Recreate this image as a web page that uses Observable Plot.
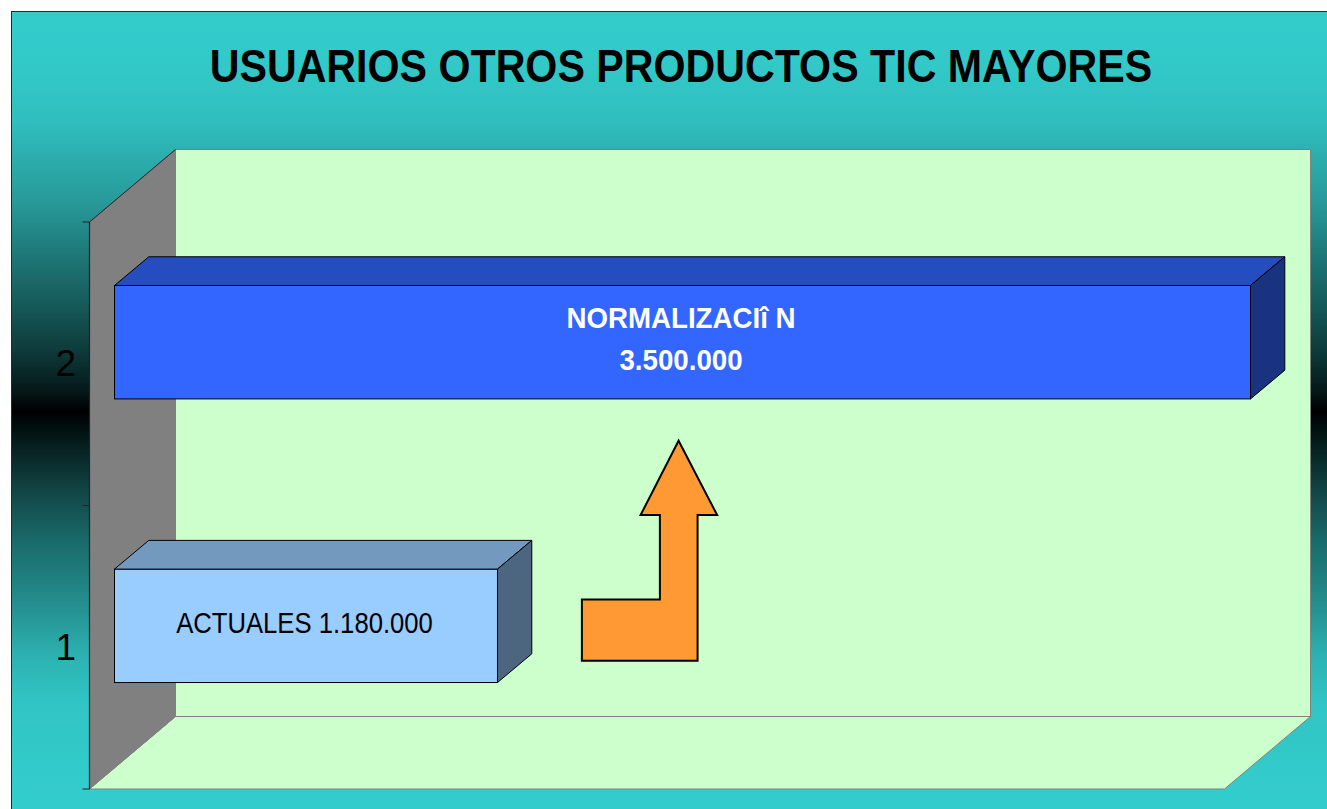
<!DOCTYPE html>
<html lang="es">
<head>
<meta charset="utf-8">
<script src="https://cdn.jsdelivr.net/npm/d3@7"></script>
<script src="https://cdn.jsdelivr.net/npm/@observablehq/plot@0.6"></script>
<style>
  html, body { margin: 0; padding: 0; background: #fff; overflow: hidden; }
  #page { position: relative; width: 1327px; height: 809px; overflow: hidden; }
  #panel {
    position: absolute; left: 11px; top: 11px; width: 1320px; height: 802px;
    box-sizing: border-box; border: 1.5px solid #2a2a2a;
    background: linear-gradient(to bottom,
      #33cccc 0px, #32c8c8 60px, #30bebe 110px, #2db0b0 139px, #289a9a 189px,
      #1f7a7a 239px, #175c5c 289px, #0e3a3a 339px, #051818 379px, #000000 399px,
      #021212 419px, #124545 479px, #1a6a6a 529px, #248c8c 589px, #2db2b2 645px,
      #31c4c4 689px, #33cccc 780px);
  }
  #title {
    position: absolute; left: 0; top: 38px; width: 1362px; margin: 0; text-align: center;
    font: bold 47px "Liberation Sans", Arial, sans-serif; color: #000; line-height: 56px;
    white-space: nowrap;
  }
  #title span { display: inline-block; transform: scaleX(0.876); transform-origin: center; }
  #chart { position: absolute; left: 0; top: 0; }
</style>
</head>
<body>
<div id="page">
  <div id="panel"></div>
  <div id="chart"></div>
  <h1 id="title"><span>USUARIOS OTROS PRODUCTOS TIC MAYORES</span></h1>
</div>
<script>
// Data
const categories = ["1", "2"];
const values = [1180000, 3500000];
const barLabels = ["ACTUALES 1.180.000", "NORMALIZACIî N\n3.500.000"];

// Colours per bar: front, top, side
const frontColors = ["#99ccff", "#3366ff"];
const topColors = ["#7399bf", "#264dbf"];
const sideColors = ["#4d6680", "#1a3380"];

const rows = categories.map((c, i) => ({category: c, value: values[i], label: barLabels[i], i}));

// Pseudo-3D layout
const room = {left: 89.5, right: 1224.5, top: 222, bottom: 789, dx: 86, dy: -72.5};
const barDepth = {dx: 34.3, dy: -28.7};
// Arrow outline relative to its lower-left corner
const arrowStart = 1440000;
const arrowShape = [[0, 0], [0, -61.4], [78, -61.4], [78, -145.7], [58.7, -145.7], [96.7, -220], [135.3, -145.7], [115.7, -145.7], [115.7, 0]];

const poly = pts => pts.map(p => p.join(",")).join(" ");

function roomMark() {
  const g = d3.create("svg:g");
  const {left, right, top, bottom, dx, dy} = room;
  const wall = "#ccffcc", edge = "#808080";
  g.append("polygon").attr("points", poly([[left + dx, top + dy], [right + dx, top + dy], [right + dx, bottom + dy], [left + dx, bottom + dy]]))
    .attr("fill", wall).attr("stroke", edge);
  g.append("polygon").attr("points", poly([[left, bottom], [left + dx, bottom + dy], [right + dx, bottom + dy], [right, bottom]]))
    .attr("fill", wall).attr("stroke", edge);
  g.append("polygon").attr("points", poly([[left, top], [left + dx, top + dy], [left + dx, bottom + dy], [left, bottom]]))
    .attr("fill", edge).attr("stroke", edge);
  g.append("line").attr("x1", left).attr("y1", top).attr("x2", left + dx).attr("y2", top + dy).attr("stroke", "#222");
  g.append("line").attr("x1", left).attr("x2", left).attr("y1", top).attr("y2", bottom).attr("stroke", "#222").attr("stroke-width", 1.2);
  const step = (bottom - top) / categories.length;
  d3.range(categories.length + 1).forEach(k => {
    const y = top + k * step;
    g.append("line").attr("x1", left - 7).attr("x2", left).attr("y1", y).attr("y2", y).attr("stroke", "#222");
  });
  return g.node();
}

function barFaces(index, scales) {
  const g = d3.create("svg:g").attr("stroke", "#000").attr("stroke-linejoin", "round");
  const bw = scales.y.bandwidth();
  const {dx, dy} = barDepth;
  for (const r of rows) {
    const x0 = scales.x(0), x1 = scales.x(r.value), y0 = scales.y(r.category), y1 = y0 + bw;
    g.append("polygon").attr("fill", topColors[r.i])
      .attr("points", poly([[x0, y0], [x0 + dx, y0 + dy], [x1 + dx, y0 + dy], [x1, y0]]));
    g.append("polygon").attr("fill", sideColors[r.i])
      .attr("points", poly([[x1, y0], [x1 + dx, y0 + dy], [x1 + dx, y1 + dy], [x1, y1]]));
  }
  return g.node();
}

function arrowMark(index, scales) {
  const ox = scales.x(arrowStart);
  const oy = scales.y("1") + scales.y.bandwidth() / 2 + 35;
  return d3.create("svg:polygon")
    .attr("points", poly(arrowShape.map(([a, b]) => [ox + a, oy + b])))
    .attr("fill", "#ff9933").attr("stroke", "#000").attr("stroke-width", 2)
    .attr("stroke-linejoin", "miter").node();
}

// The source's type is horizontally condensed
const condensed = k => (index, scales, channels, dimensions, context, next) => {
  const g = next(index, scales, channels, dimensions, context);
  d3.select(g).selectAll("text").attr("transform", function () {
    return (this.getAttribute("transform") || "") + ` scale(${k},1)`;
  });
  return g;
};

const labelOptions = {
  x: d => d.value / 2, y: "category", text: "label",
  dx: -2, fontFamily: "Liberation Sans", fontSize: 29, lineHeight: 1.45,
  lineAnchor: "middle", textAnchor: "middle"
};

const chart = Plot.plot({
  width: 1327,
  height: 809,
  marginTop: 0, marginRight: 0, marginBottom: 0, marginLeft: 0,
  style: {background: "transparent", overflow: "visible"},
  x: {domain: [0, 3500000], range: [114.5, 1250.5], axis: null},
  y: {type: "band", domain: ["2", "1"], range: [200.4, 767.6], paddingInner: 0.6, paddingOuter: 0.3, round: false, axis: null, label: null},
  marks: [
    roomMark,
    Plot.axisY({anchor: "left", tickSize: 0, tickPadding: 0, dx: 75.5, dy: 21.5, fontSize: 37, fontFamily: "Liberation Sans", label: null, fill: "#000"}),
    Plot.barX(rows, {x: "value", y: "category", fill: d => frontColors[d.i], stroke: "#000", strokeWidth: 1}),
    barFaces,
    arrowMark,
    Plot.text(rows.filter(d => d.i === 0), {...labelOptions, dy: -7, fill: "#000", fontWeight: "normal", render: condensed(0.885)}),
    Plot.text(rows.filter(d => d.i === 1), {...labelOptions, dy: -7, fill: "#fff", fontWeight: "bold", render: condensed(0.955)})
  ]
});
document.getElementById("chart").appendChild(chart);
</script>
</body>
</html>
